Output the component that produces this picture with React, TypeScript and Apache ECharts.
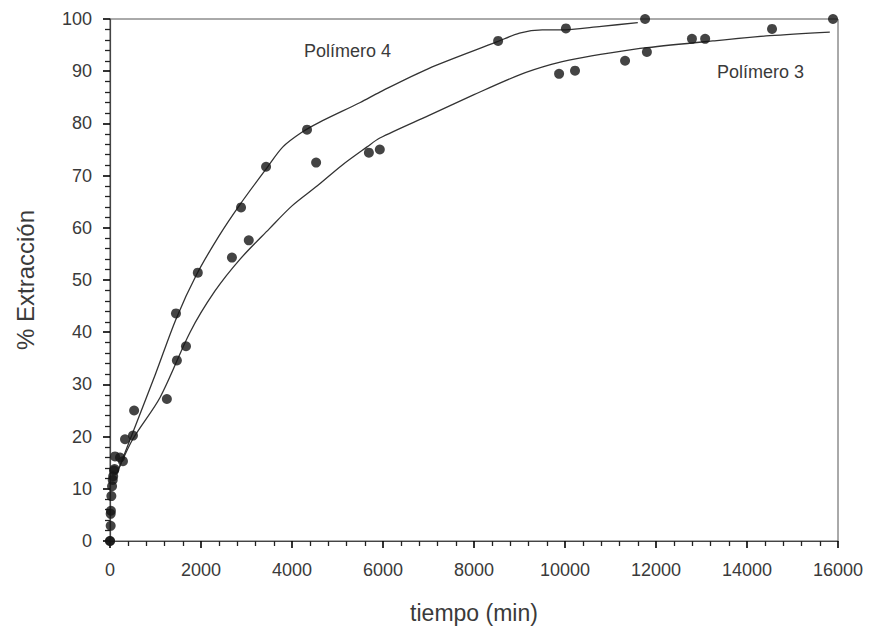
import React, { useEffect, useRef } from "react";
import * as echarts from "echarts";

// Measured extraction (%) vs time (min) for each polymer
const polimero4Puntos: [number, number][] = [
  [0, 0], [15, 5.2], [30, 8.6], [60, 11.7], [90, 13.5], [110, 16.2], [220, 16],
  [330, 19.5], [530, 25], [1450, 43.6], [1930, 51.4], [2880, 63.9], [3430, 71.7],
  [4330, 78.8], [8530, 95.8], [10020, 98.2], [11760, 100],
];
const polimero3Puntos: [number, number][] = [
  [0, 0], [15, 2.9], [20, 5.8], [45, 10.5], [70, 12.4], [100, 13.8], [285, 15.3],
  [505, 20.2], [1250, 27.2], [1470, 34.6], [1670, 37.3], [2680, 54.3], [3050, 57.6],
  [4530, 72.5], [5690, 74.4], [5930, 75], [9870, 89.5], [10220, 90.1], [11320, 92],
  [11800, 93.7], [12790, 96.2], [13080, 96.2], [14550, 98.1], [15890, 100],
];

// Fitted trend curves
const polimero4Ajuste: [number, number][] = [
  [200, 14], [600, 23], [1000, 32], [1450, 42.5], [1900, 51], [2400, 58.5],
  [2860, 64.5], [3450, 71.5], [3800, 75.5], [4200, 78.2], [4600, 80.2],
  [5500, 84], [5930, 86], [7000, 90.5], [8500, 95.6], [9000, 97.3], [9500, 97.9],
  [9900, 97.9], [10800, 98.6], [11600, 99.3],
];
const polimero3Ajuste: [number, number][] = [
  [150, 13], [500, 19.5], [1100, 27.5], [1760, 40], [2300, 47.8], [2860, 54],
  [3500, 59.8], [4000, 64.2], [4550, 68], [5100, 72], [5650, 75.5], [5930, 77.2],
  [7000, 81.5], [8000, 85.5], [9000, 89.3], [9700, 91.3], [10260, 92.4],
  [11000, 93.5], [11800, 94.5], [13250, 95.8], [14500, 96.8], [15820, 97.5],
];

const xTicks = { min: 0, max: 16000, interval: 2000, minorStep: 400 };
const yTicks = { min: 0, max: 100, interval: 10, minorStep: 2 };

export default function App() {
  const ref = useRef<HTMLDivElement>(null);

  useEffect(() => {
    if (!ref.current) return;
    const chart = echarts.init(ref.current, undefined, { renderer: "svg" });
    const ink = "#3a3a3a";
    const font = "Liberation Sans, Arial, sans-serif";

    chart.setOption({
      animation: false,
      backgroundColor: "#ffffff",
      grid: {
        left: 110,
        right: 33,
        top: 19,
        bottom: 87,
        show: true,
        borderColor: "#555",
        borderWidth: 1,
      },
      xAxis: {
        type: "value",
        min: xTicks.min,
        max: xTicks.max,
        interval: xTicks.interval,
        name: "tiempo (min)",
        nameLocation: "middle",
        nameGap: 60,
        nameTextStyle: { fontSize: 23, color: ink, fontFamily: font },
        axisLine: { show: true, onZero: false, lineStyle: { color: "#444", width: 1.2 } },
        axisTick: { show: true, inside: false, length: 7, lineStyle: { color: "#000", width: 1.6 } },
        minorTick: {
          show: true,
          splitNumber: xTicks.interval / xTicks.minorStep,
          length: 5,
          lineStyle: { color: "#222", width: 1.3 },
        },
        axisLabel: {
          fontSize: 18,
          color: ink,
          fontFamily: font,
          margin: 20,
          formatter: (v: number) => String(v),
        },
        splitLine: { show: false },
      },
      yAxis: {
        type: "value",
        min: yTicks.min,
        max: yTicks.max,
        interval: yTicks.interval,
        name: "% Extracción",
        nameLocation: "middle",
        nameGap: 73,
        nameTextStyle: { fontSize: 24, color: ink, fontFamily: font },
        axisLine: { show: true, onZero: false, lineStyle: { color: "#444", width: 1.2 } },
        axisTick: { show: true, inside: false, length: 7, lineStyle: { color: "#000", width: 1.6 } },
        minorTick: {
          show: true,
          splitNumber: yTicks.interval / yTicks.minorStep,
          length: 5,
          lineStyle: { color: "#222", width: 1.3 },
        },
        axisLabel: { fontSize: 18, color: ink, fontFamily: font, margin: 18 },
        splitLine: { show: false },
      },
      graphic: [
        {
          type: "text",
          x: 304,
          y: 51,
          style: { text: "Polímero 4", fontSize: 18, fill: ink, fontFamily: font, verticalAlign: "middle" },
        },
        {
          type: "text",
          x: 717,
          y: 72,
          style: { text: "Polímero 3", fontSize: 18, fill: ink, fontFamily: font, verticalAlign: "middle" },
        },
      ],
      series: [
        {
          name: "Polímero 4 ajuste",
          type: "line",
          data: polimero4Ajuste,
          smooth: 0.3,
          showSymbol: false,
          lineStyle: { color: "#333", width: 1.3 },
          z: 2,
        },
        {
          name: "Polímero 3 ajuste",
          type: "line",
          data: polimero3Ajuste,
          smooth: 0.3,
          showSymbol: false,
          lineStyle: { color: "#333", width: 1.3 },
          z: 2,
        },
        {
          name: "Polímero 4",
          type: "scatter",
          data: polimero4Puntos,
          symbolSize: 10,
          itemStyle: { color: "#151515" },
          z: 3,
        },
        {
          name: "Polímero 3",
          type: "scatter",
          data: polimero3Puntos,
          symbolSize: 10,
          itemStyle: { color: "#151515" },
          z: 3,
        },
      ],
    });

    return () => chart.dispose();
  }, []);

  return <div ref={ref} style={{ width: 871, height: 629, position: "absolute", left: 0, top: 0 }} />;
}
